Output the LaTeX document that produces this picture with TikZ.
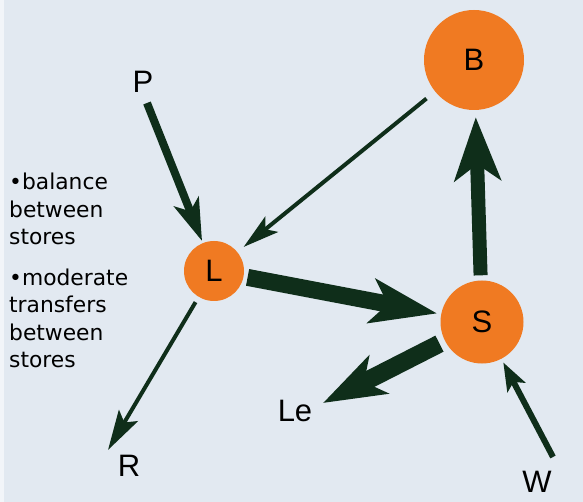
\documentclass[tikz,border=0pt]{standalone}
\usepackage{fontspec}
\setmainfont{Liberation Sans}
\newfontfamily\notefont{DejaVu Sans}
\usetikzlibrary{arrows.meta}
\definecolor{bgc}{HTML}{E2E9F1}
\definecolor{storec}{HTML}{F07A22}
\definecolor{flowc}{HTML}{0F2E1A}
\begin{document}
\begin{tikzpicture}[x=1pt,y=-1pt,
  store/.style={circle,fill=storec,inner sep=0pt,font=\fontsize{31}{31}\selectfont},
  lbl/.style={inner sep=0pt,font=\fontsize{31}{31}\selectfont},
  note/.style={anchor=base west,align=left,inner sep=0pt,font=\notefont\fontsize{21.8}{27.5}\selectfont},
  arr/.style n args={4}{draw=flowc,line width=#1,-{Stealth[length=#2,width=#3,inset=#4]}}
]
\useasboundingbox (0,0) rectangle (583,502);
\fill[bgc] (0,0) rectangle (583,502);
\fill[white!55!bgc] (0,0) rectangle (4,502);

\node[store,minimum size=100pt] (B) at (474,60) {B};
\node[store,minimum size=60pt] (L) at (214,271) {L};
\node[store,minimum size=83pt] (S) at (482,322) {S};
\node[lbl] (P) at (143,82) {P};
\node[lbl] (R) at (129,466) {R};
\node[lbl] (Le) at (295,411) {Le};
\node[lbl] (W) at (537,482) {W};

\coordinate (ptail) at (147,103);
\coordinate (rtip) at (108,450);
\coordinate (letip) at (323,403);
\coordinate (wtail) at (553,457);

\draw[arr={8pt}{42pt}{26pt}{10pt},shorten >=2pt] (ptail) -- (L);
\draw[arr={4pt}{36pt}{20pt}{8pt},shorten <=11pt,shorten >=8pt] (B) -- (L);
\draw[arr={17pt}{66pt}{44pt}{16pt},shorten <=4pt,shorten >=4pt] (L) -- (S);
\draw[arr={14pt}{63pt}{46pt}{16pt},shorten <=5pt,shorten >=7pt] (S) -- (B);
\draw[arr={18pt}{62pt}{42pt}{16pt},shorten <=6pt] (S) -- (letip);
\draw[arr={6pt}{28pt}{20pt}{6pt},shorten >=4pt] (wtail) -- (S);
\draw[arr={4pt}{40pt}{22pt}{8pt},shorten <=6pt] (L) -- (rtip);

\node[note] (t1) at (9,245) {•balance\\between\\stores};
\node[note] (t2) at (9,367.5) {•moderate\\transfers\\between\\stores};
\end{tikzpicture}
\end{document}
